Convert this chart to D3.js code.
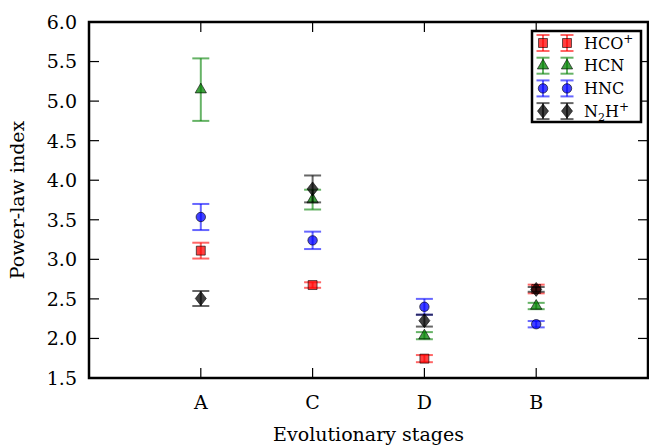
<!DOCTYPE html>
<html>
<head>
<meta charset="utf-8">
<script src="https://cdn.jsdelivr.net/npm/d3@7"></script>
<style>
  body { margin: 0; background: #fff; }
  text { font-family: "DejaVu Serif", serif; fill: #000; }
</style>
</head>
<body>
<svg id="chart" width="649" height="448"></svg>
<script>
const stages = ['A', 'C', 'D', 'B']
const yTicks = [1.5, 2.0, 2.5, 3.0, 3.5, 4.0, 4.5, 5.0, 5.5, 6.0]

const hcoVals = [3.11, 2.675, 1.745, 2.625]
const hcoErr = [0.10, 0.035, 0.045, 0.055]
const hcnVals = [5.145, 3.755, 2.035, 2.41]
const hcnErr = [0.395, 0.125, 0.045, 0.04]
const hncVals = [3.535, 3.24, 2.40, 2.18]
const hncErr = [0.165, 0.11, 0.10, 0.04]
const n2hVals = [2.505, 3.89, 2.225, 2.62]
const n2hErr = [0.095, 0.17, 0.075, 0.03]

const series = [
    { name: 'HCO', sup: '+', sub: '', vals: hcoVals, err: hcoErr, color: '#ff0000', fill: '#ff0000', shape: 'square' },
    { name: 'HCN', sup: '', sub: '', vals: hcnVals, err: hcnErr, color: '#008000', fill: '#008000', shape: 'triangle' },
    { name: 'HNC', sup: '', sub: '', vals: hncVals, err: hncErr, color: '#0000ff', fill: '#0000ff', shape: 'circle' },
    { name: 'N', sup: '+', sub: '2', vals: n2hVals, err: n2hErr, color: '#000000', fill: '#000000', shape: 'diamond' }
]

const margin = { top: 22, right: 1, bottom: 70, left: 89 }
const width = 649 - margin.left - margin.right
const height = 448 - margin.top - margin.bottom

const svg = d3.select('#chart')
const g = svg.append('g').attr('transform', `translate(${margin.left},${margin.top})`)

const x = d3.scaleLinear().domain([0, 5]).range([0, width])
const y = d3.scaleLinear().domain([1.5, 6.0]).range([height, 0])

const TICK = 10

// ticks on all four sides, pointing inward
const ticksG = g.append('g')
stages.forEach((s, i) => {
    const xx = x(i + 1)
    ticksG.append('line').attr('x1', xx).attr('x2', xx).attr('y1', height).attr('y2', height - TICK)
    ticksG.append('line').attr('x1', xx).attr('x2', xx).attr('y1', 0).attr('y2', TICK)
    g.append('text')
        .attr('x', xx).attr('y', height + 31)
        .attr('text-anchor', 'middle')
        .style('font-size', '19px')
        .text(s)
})
yTicks.forEach(v => {
    const yy = y(v)
    ticksG.append('line').attr('x1', 0).attr('x2', TICK).attr('y1', yy).attr('y2', yy)
    ticksG.append('line').attr('x1', width).attr('x2', width - TICK).attr('y1', yy).attr('y2', yy)
    g.append('text')
        .attr('x', -12).attr('y', yy)
        .attr('dy', '0.36em')
        .attr('text-anchor', 'end')
        .style('font-size', '19px')
        .text(d3.format('.1f')(v))
})
ticksG.selectAll('line').attr('stroke', '#000').attr('stroke-width', 1.2)

function markerPath(shape) {
    if (shape == 'square') return d3.symbol(d3.symbolSquare, 80)()
    if (shape == 'triangle') return d3.symbol(d3.symbolTriangle, 55)()
    if (shape == 'circle') return d3.symbol(d3.symbolCircle, 70)()
    return 'M0,-7 L5.5,0 L0,7 L-5.5,0 Z'
}

function drawErrorbar(sel, cx, cy, lo, hi, s, capW) {
    sel.append('line')
        .attr('x1', cx).attr('x2', cx).attr('y1', lo).attr('y2', hi)
        .attr('stroke', s.color).attr('stroke-width', 2).attr('stroke-opacity', 0.6)
    ;[lo, hi].forEach(v => {
        sel.append('line')
            .attr('x1', cx - capW / 2).attr('x2', cx + capW / 2).attr('y1', v).attr('y2', v)
            .attr('stroke', s.color).attr('stroke-width', 2).attr('stroke-opacity', 0.6)
    })
    sel.append('path')
        .attr('d', markerPath(s.shape))
        .attr('transform', `translate(${cx},${cy})`)
        .attr('fill', s.fill).attr('fill-opacity', 0.75)
        .attr('stroke', '#000').attr('stroke-opacity', 0.6).attr('stroke-width', 1)
}

// data
series.forEach(s => {
    const sg = g.append('g')
    s.vals.forEach((v, i) => {
        drawErrorbar(sg, x(i + 1), y(v), y(v - s.err[i]), y(v + s.err[i]), s, 17)
    })
})

// frame
g.append('rect')
    .attr('x', 0).attr('y', 0).attr('width', width).attr('height', height)
    .attr('fill', 'none').attr('stroke', '#000').attr('stroke-width', 2.5)

// axis labels
g.append('text')
    .attr('x', width / 2).attr('y', height + 63)
    .attr('text-anchor', 'middle')
    .style('font-size', '19px')
    .text('Evolutionary stages')
svg.append('text')
    .attr('transform', `translate(24,${margin.top + height / 2}) rotate(-90)`)
    .attr('text-anchor', 'middle')
    .style('font-size', '19px')
    .text('Power-law index')

// legend
const legend = svg.append('g')
legend.append('rect')
    .attr('x', 532).attr('y', 31).attr('width', 109).attr('height', 91)
    .attr('fill', '#fff').attr('stroke', '#000').attr('stroke-width', 2.5)
series.forEach((s, i) => {
    const ry = 43 + i * 22.7
    const lg = legend.append('g')
    ;[543, 567].forEach(cx => drawErrorbar(lg, cx, ry, ry + 8, ry - 8, s, 13))
    const t = lg.append('text')
        .attr('x', 584).attr('y', ry)
        .attr('dy', '0.36em')
        .style('font-size', '16px')
        .text(s.name)
    if (s.sub) {
        t.append('tspan').attr('dy', '4').style('font-size', '11px').text(s.sub)
        t.append('tspan').attr('dy', '-4').text('H')
    }
    if (s.sup) t.append('tspan').attr('dy', '-6').style('font-size', '12px').text(s.sup)
})
</script>
</body>
</html>
